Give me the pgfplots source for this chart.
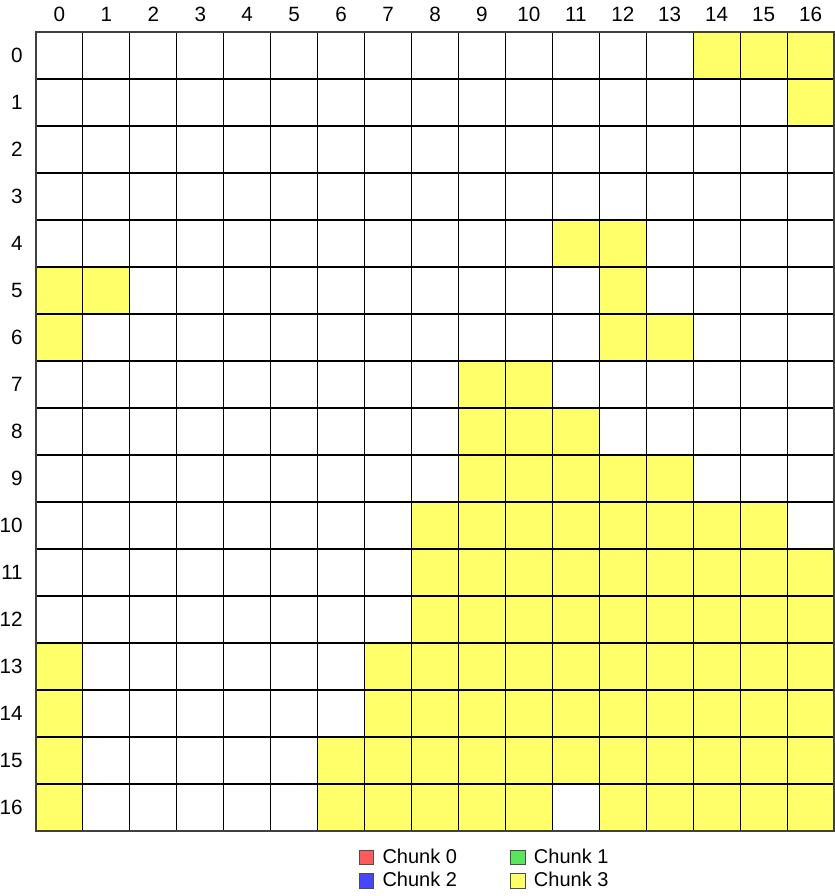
\documentclass[border=0pt]{standalone}
\usepackage{pgfplots}
\pgfplotsset{compat=1.18}
\usepackage{fontspec}
\setmainfont{Liberation Sans}
\definecolor{cellyellow}{RGB}{255,255,105}
\definecolor{cred}{RGB}{255,90,90}
\definecolor{cgreen}{RGB}{90,230,90}
\definecolor{cblue}{RGB}{70,70,255}
\begin{document}
\begin{tikzpicture}
\path[use as bounding box] (-27pt,24pt) rectangle (599.25pt,-648pt);
\begin{axis}[
  at={(0pt,0pt)}, anchor=north west,
  scale only axis, width=598.5pt, height=599.25pt,
  xmin=-0.5, xmax=16.5, ymin=-0.5, ymax=16.5, y dir=reverse,
  xtick={0,...,16}, ytick={0,...,16},
  minor xtick={-0.5,0.5,...,16.5}, minor ytick={-0.5,0.5,...,16.5},
  xminorgrids, yminorgrids,
  minor grid style={black, line width=0.8pt},
  major tick length=0pt, minor tick length=0pt,
  xticklabel pos=upper,
  xticklabel shift=7.75pt, yticklabel shift=9.75pt,
  tick label style={inner sep=0pt, font=\fontsize{15.5}{18}\selectfont},
  /pgf/number format/assume math mode=true,
  axis line style={black!75, line width=0.8pt},
  axis on top,
  colormap={wy}{color=(white) color=(cellyellow)},
  point meta min=0, point meta max=1,
  legend columns=2,
  legend style={at={(axis description cs:0.5627,-0.0476)}, anchor=center, draw=none,
    font=\fontsize{15}{18}\selectfont, row sep=1pt,
    /tikz/every odd column/.append style={column sep=4.5pt},
    /tikz/every even column/.append style={column sep=38pt}},
  legend image code/.code={\draw[#1] (0pt,-5.4pt) rectangle (10.8pt,5.4pt);},
]
\addplot[matrix plot*, shader=flat corner, mesh/cols=17, point meta=explicit, forget plot] coordinates {
(0,0)[0] (1,0)[0] (2,0)[0] (3,0)[0] (4,0)[0] (5,0)[0] (6,0)[0] (7,0)[0] (8,0)[0] (9,0)[0] (10,0)[0] (11,0)[0] (12,0)[0] (13,0)[0] (14,0)[1] (15,0)[1] (16,0)[1]
(0,1)[0] (1,1)[0] (2,1)[0] (3,1)[0] (4,1)[0] (5,1)[0] (6,1)[0] (7,1)[0] (8,1)[0] (9,1)[0] (10,1)[0] (11,1)[0] (12,1)[0] (13,1)[0] (14,1)[0] (15,1)[0] (16,1)[1]
(0,2)[0] (1,2)[0] (2,2)[0] (3,2)[0] (4,2)[0] (5,2)[0] (6,2)[0] (7,2)[0] (8,2)[0] (9,2)[0] (10,2)[0] (11,2)[0] (12,2)[0] (13,2)[0] (14,2)[0] (15,2)[0] (16,2)[0]
(0,3)[0] (1,3)[0] (2,3)[0] (3,3)[0] (4,3)[0] (5,3)[0] (6,3)[0] (7,3)[0] (8,3)[0] (9,3)[0] (10,3)[0] (11,3)[0] (12,3)[0] (13,3)[0] (14,3)[0] (15,3)[0] (16,3)[0]
(0,4)[0] (1,4)[0] (2,4)[0] (3,4)[0] (4,4)[0] (5,4)[0] (6,4)[0] (7,4)[0] (8,4)[0] (9,4)[0] (10,4)[0] (11,4)[1] (12,4)[1] (13,4)[0] (14,4)[0] (15,4)[0] (16,4)[0]
(0,5)[1] (1,5)[1] (2,5)[0] (3,5)[0] (4,5)[0] (5,5)[0] (6,5)[0] (7,5)[0] (8,5)[0] (9,5)[0] (10,5)[0] (11,5)[0] (12,5)[1] (13,5)[0] (14,5)[0] (15,5)[0] (16,5)[0]
(0,6)[1] (1,6)[0] (2,6)[0] (3,6)[0] (4,6)[0] (5,6)[0] (6,6)[0] (7,6)[0] (8,6)[0] (9,6)[0] (10,6)[0] (11,6)[0] (12,6)[1] (13,6)[1] (14,6)[0] (15,6)[0] (16,6)[0]
(0,7)[0] (1,7)[0] (2,7)[0] (3,7)[0] (4,7)[0] (5,7)[0] (6,7)[0] (7,7)[0] (8,7)[0] (9,7)[1] (10,7)[1] (11,7)[0] (12,7)[0] (13,7)[0] (14,7)[0] (15,7)[0] (16,7)[0]
(0,8)[0] (1,8)[0] (2,8)[0] (3,8)[0] (4,8)[0] (5,8)[0] (6,8)[0] (7,8)[0] (8,8)[0] (9,8)[1] (10,8)[1] (11,8)[1] (12,8)[0] (13,8)[0] (14,8)[0] (15,8)[0] (16,8)[0]
(0,9)[0] (1,9)[0] (2,9)[0] (3,9)[0] (4,9)[0] (5,9)[0] (6,9)[0] (7,9)[0] (8,9)[0] (9,9)[1] (10,9)[1] (11,9)[1] (12,9)[1] (13,9)[1] (14,9)[0] (15,9)[0] (16,9)[0]
(0,10)[0] (1,10)[0] (2,10)[0] (3,10)[0] (4,10)[0] (5,10)[0] (6,10)[0] (7,10)[0] (8,10)[1] (9,10)[1] (10,10)[1] (11,10)[1] (12,10)[1] (13,10)[1] (14,10)[1] (15,10)[1] (16,10)[0]
(0,11)[0] (1,11)[0] (2,11)[0] (3,11)[0] (4,11)[0] (5,11)[0] (6,11)[0] (7,11)[0] (8,11)[1] (9,11)[1] (10,11)[1] (11,11)[1] (12,11)[1] (13,11)[1] (14,11)[1] (15,11)[1] (16,11)[1]
(0,12)[0] (1,12)[0] (2,12)[0] (3,12)[0] (4,12)[0] (5,12)[0] (6,12)[0] (7,12)[0] (8,12)[1] (9,12)[1] (10,12)[1] (11,12)[1] (12,12)[1] (13,12)[1] (14,12)[1] (15,12)[1] (16,12)[1]
(0,13)[1] (1,13)[0] (2,13)[0] (3,13)[0] (4,13)[0] (5,13)[0] (6,13)[0] (7,13)[1] (8,13)[1] (9,13)[1] (10,13)[1] (11,13)[1] (12,13)[1] (13,13)[1] (14,13)[1] (15,13)[1] (16,13)[1]
(0,14)[1] (1,14)[0] (2,14)[0] (3,14)[0] (4,14)[0] (5,14)[0] (6,14)[0] (7,14)[1] (8,14)[1] (9,14)[1] (10,14)[1] (11,14)[1] (12,14)[1] (13,14)[1] (14,14)[1] (15,14)[1] (16,14)[1]
(0,15)[1] (1,15)[0] (2,15)[0] (3,15)[0] (4,15)[0] (5,15)[0] (6,15)[1] (7,15)[1] (8,15)[1] (9,15)[1] (10,15)[1] (11,15)[1] (12,15)[1] (13,15)[1] (14,15)[1] (15,15)[1] (16,15)[1]
(0,16)[1] (1,16)[0] (2,16)[0] (3,16)[0] (4,16)[0] (5,16)[0] (6,16)[1] (7,16)[1] (8,16)[1] (9,16)[1] (10,16)[1] (11,16)[0] (12,16)[1] (13,16)[1] (14,16)[1] (15,16)[1] (16,16)[1]
};
\addlegendimage{fill=cred, draw=black!70}
\addlegendentry{Chunk 0}
\addlegendimage{fill=cgreen, draw=black!70}
\addlegendentry{Chunk 1}
\addlegendimage{fill=cblue, draw=black!70}
\addlegendentry{Chunk 2}
\addlegendimage{fill=cellyellow, draw=black!70}
\addlegendentry{Chunk 3}
\end{axis}
\end{tikzpicture}
\end{document}
